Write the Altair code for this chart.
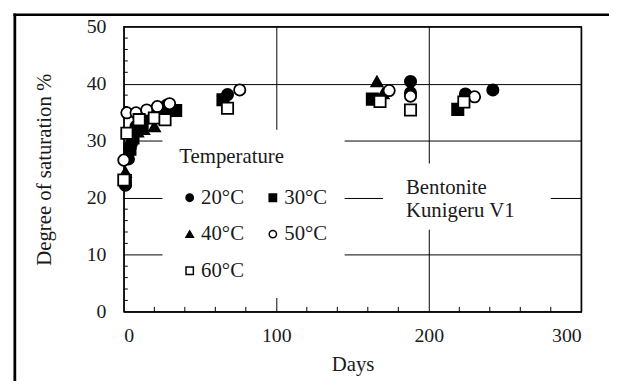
import altair as alt
import pandas as pd

temps = ["20°C", "30°C", "40°C", "50°C", "60°C"]
shapes = ["circle", "square", "triangle-up", "circle", "square"]
fills = ["black", "black", "black", "white", "white"]
strokes = ["black", "black", "black", "black", "black"]

days_20 = [1, 3, 5, 8, 15, 22, 28, 68, 188, 188, 224, 242]
sat_20 = [22.2, 26.8, 29.5, 32.5, 34.5, 35.8, 36.2, 38.1, 40.4, 38.4, 38.2, 38.9]
days_30 = [1, 4, 6, 12, 20, 27, 34, 65, 163, 219]
sat_30 = [23.0, 28.5, 30.5, 32.5, 34.8, 35.5, 35.3, 37.2, 37.3, 35.5]
days_40 = [1, 4, 9, 13, 20, 27, 166, 170]
sat_40 = [24.5, 29.5, 31.6, 32.0, 32.5, 35.7, 40.4, 38.3]
days_50 = [0, 2, 8, 15, 22, 30, 76, 174, 188, 230]
sat_50 = [26.6, 34.9, 34.9, 35.4, 36.0, 36.5, 38.9, 38.8, 37.8, 37.7]
days_60 = [0, 2, 10, 20, 27, 68, 168, 188, 223]
sat_60 = [23.1, 31.3, 33.7, 34.0, 33.7, 35.7, 36.9, 35.4, 36.8]

x_ticks = [0, 100, 200, 300]
y_ticks = [0, 10, 20, 30, 40, 50]
x_minor = [20, 40, 60, 80, 120, 140, 160, 180, 220, 240, 260, 280]
y_minor = [2, 4, 6, 8, 12, 14, 16, 18, 22, 24, 26, 28, 32, 34, 36, 38, 42, 44, 46, 48]

note_lines = ["Bentonite", "Kunigeru V1"]

rows = []
for t, ds, vs in zip(temps, [days_20, days_30, days_40, days_50, days_60],
                     [sat_20, sat_30, sat_40, sat_50, sat_60]):
    for d, v in zip(ds, vs):
        rows.append({"Temperature": t, "Days": d, "Sat": v})
df = pd.DataFrame(rows)

FONT = "Liberation Serif"
TXT = "#1a1a1a"

x_scale = alt.Scale(domain=[0, 300], nice=False, zero=False)
y_scale = alt.Scale(domain=[0, 50], nice=False, zero=False)
x_axis = alt.Axis(values=x_ticks, title="Days", grid=True, ticks=False, domain=False,
                  labelPadding=14, titlePadding=8, labelFontSize=20, titleFontSize=21,
                  labelFont=FONT, titleFont=FONT, labelColor=TXT, titleColor=TXT,
                  titleFontWeight="normal")
y_axis = alt.Axis(values=y_ticks, title="Degree of saturation %", grid=True, ticks=False,
                  domain=False, labelPadding=18, titlePadding=32, labelFontSize=20,
                  titleFontSize=21, labelFont=FONT, titleFont=FONT, labelColor=TXT,
                  titleColor=TXT, titleFontWeight="normal")

legend = alt.Legend(
    title="Temperature", orient="none", legendX=39, legendY=104, columns=2,
    direction="horizontal",
    fillColor="white", padding=17, symbolSize=55, symbolStrokeColor="black",
    symbolStrokeWidth=1.5, labelFontSize=21, titleFontSize=21, labelFont=FONT,
    titleFont=FONT, titleFontWeight="normal", labelColor=TXT, titleColor=TXT,
    rowPadding=15, columnPadding=18, labelOffset=1, titlePadding=20,
)

# white box behind the annotation
box = alt.Chart(pd.DataFrame({"x": [170], "x2": [280], "y": [14.4], "y2": [26]})).mark_rect(
    color="white").encode(
    x=alt.X("x:Q", scale=x_scale, axis=x_axis),
    x2="x2:Q",
    y=alt.Y("y:Q", scale=y_scale, axis=y_axis),
    y2="y2:Q",
)

note = alt.Chart(pd.DataFrame({"x": [185], "y": [20.6], "t": [note_lines]})).mark_text(
    align="left", baseline="alphabetic", font=FONT, fontSize=21, lineHeight=23, color=TXT
).encode(
    x=alt.X("x:Q", scale=x_scale, axis=x_axis),
    y=alt.Y("y:Q", scale=y_scale, axis=y_axis),
    text="t",
)

yt = alt.Chart(pd.DataFrame({"v": y_minor})).mark_rule(color="black", strokeWidth=1).encode(
    y=alt.Y("v:Q", scale=y_scale, axis=y_axis), x=alt.value(0), x2=alt.value(4))
xt = alt.Chart(pd.DataFrame({"d": x_minor})).mark_rule(color="black", strokeWidth=1).encode(
    x=alt.X("d:Q", scale=x_scale, axis=x_axis), y=alt.value(288), y2=alt.value(283))

points = alt.Chart(df).mark_point(filled=True, strokeWidth=1.8, size=130, opacity=1).encode(
    x=alt.X("Days:Q", scale=x_scale, axis=x_axis),
    y=alt.Y("Sat:Q", scale=y_scale, axis=y_axis),
    shape=alt.Shape("Temperature:N", scale=alt.Scale(domain=temps, range=shapes), legend=legend),
    fill=alt.Fill("Temperature:N", scale=alt.Scale(domain=temps, range=fills), legend=legend),
    stroke=alt.Stroke("Temperature:N", scale=alt.Scale(domain=temps, range=strokes),
                      legend=legend),
)

one = pd.DataFrame({"a": [0]})
frame_top = alt.Chart(one).mark_rect(color="black").encode(
    x=alt.value(-111.5), x2=alt.value(500), y=alt.value(-13.3), y2=alt.value(-10.7))
frame_left = alt.Chart(one).mark_rect(color="black").encode(
    x=alt.value(-111.5), x2=alt.value(-108.7), y=alt.value(-13.3), y2=alt.value(360))

chart = alt.layer(box, note, yt, xt, points, frame_top, frame_left).properties(
    width=462, height=288,
    autosize=alt.AutoSizeParams(type="none"),
    padding={"left": 117, "top": 17, "right": 28, "bottom": 68},
).configure_view(stroke="#111", strokeWidth=1.5).configure_axis(
    gridColor="black", gridWidth=1, gridOpacity=1,
)

chart.save("out.html", embed_options={"renderer": "svg", "actions": False})
